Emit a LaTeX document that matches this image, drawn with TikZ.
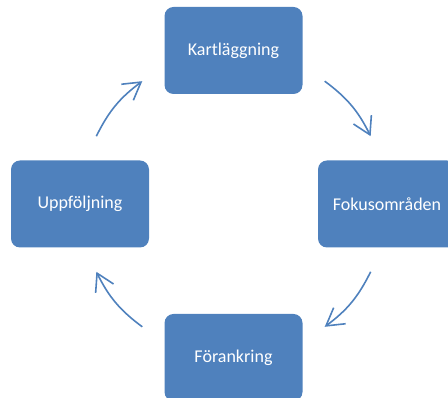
\documentclass[tikz,border=0pt]{standalone}
\usepackage{fontspec}
\setmainfont{Carlito}
\usepackage{tikz}
\usetikzlibrary{arrows.meta,calc,positioning}
\definecolor{boxblue}{RGB}{79,129,189}

\tikzset{box/.style={rectangle,rounded corners=9pt,fill=boxblue,text=white,
                     minimum width=138pt,minimum height=87pt,
                     font=\fontsize{18}{21}\selectfont}}

\begin{document}
\begin{tikzpicture}[x=1pt,y=1pt,->,>={Straight Barb[length=17pt,width=20pt]},
                    color=boxblue,line width=1.6pt,
                    node distance=153.5pt and 153.5pt,on grid]

 		 \useasboundingbox (0,0) rectangle (448,398);

 		 \node[box] (kart) at (233.5,347.5) {Kartläggning};
 		 \node[box] (uppf)  [below left=of kart]  {Uppföljning};
		 \node[box] (fokus) [below right=of kart] {Fokusområden};
		 \node[box] (foran) [below right=of uppf] {Förankring};

		 % ends of the arrows, on a circle round the middle
		 \coordinate (c) at ($(uppf)!0.5!(fokus)$);
		 \coordinate (a1) at ($(c)+(153.7:153pt)$);
		 \coordinate (a2) at ($(c)+(126.6:153pt)$);
		 \coordinate (a3) at ($(c)+(53.4:153pt)$);
		 \coordinate (a4) at ($(c)+(26.3:153pt)$);
		 \coordinate (a5) at ($(c)+(-26.3:153pt)$);
		 \coordinate (a6) at ($(c)+(-53.4:153pt)$);
		 \coordinate (a7) at ($(c)+(-126.6:153pt)$);
		 \coordinate (a8) at ($(c)+(-153.7:153pt)$);

		\begin{scope}
		  \path	 (a1) 	edge[bend left=13.5] (a2)
				 (a3)	edge[bend left=13.5] (a4)
				 (a5) 	edge[bend left=13.5] (a6)
				 (a7) 	edge[bend left=13.5] (a8);
		\end{scope}
	\end{tikzpicture}
\end{document}
